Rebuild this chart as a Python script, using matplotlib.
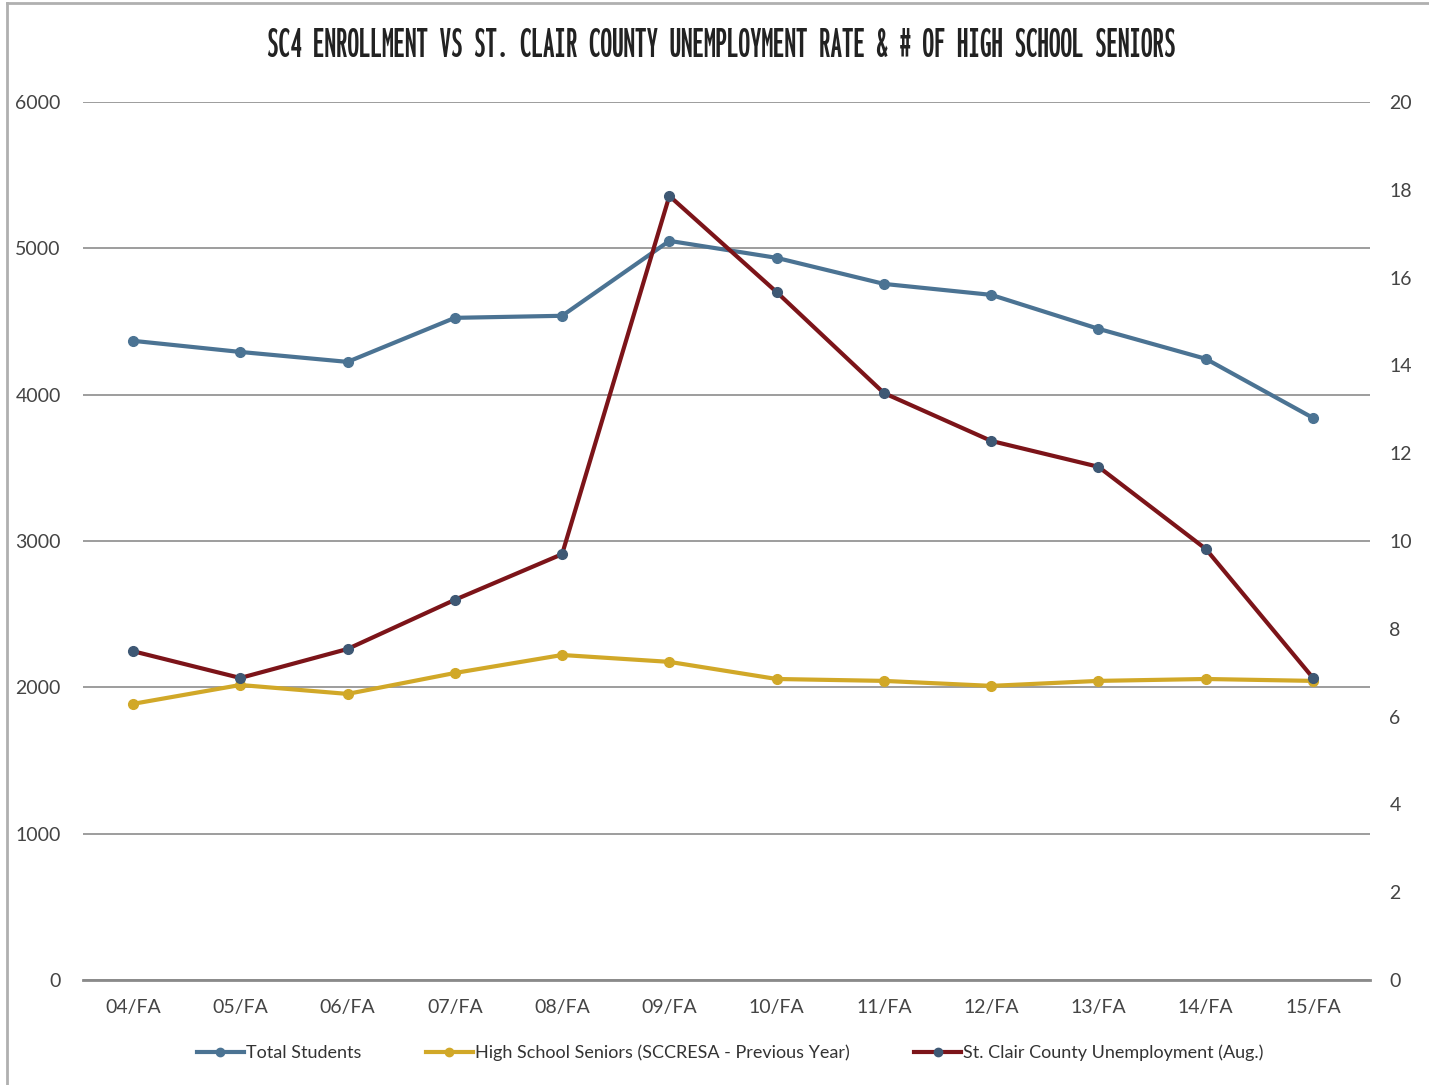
import matplotlib
matplotlib.use("Agg")
import matplotlib.pyplot as plt
from matplotlib.lines import Line2D
from matplotlib import font_manager
from matplotlib.font_manager import FontProperties

terms = ["04/FA", "05/FA", "06/FA", "07/FA", "08/FA", "09/FA",
         "10/FA", "11/FA", "12/FA", "13/FA", "14/FA", "15/FA"]
total_students = [4368, 4292, 4224, 4525, 4539, 5051, 4935, 4757, 4682, 4450, 4245, 3841]
hs_seniors = [1887, 2016, 1955, 2098, 2221, 2174, 2057, 2044, 2010, 2044, 2057, 2044]
unemployment = [7.49, 6.88, 7.54, 8.66, 9.70, 17.86, 15.67, 13.37, 12.28, 11.69, 9.82, 6.88]

left_ticks = [0, 1000, 2000, 3000, 4000, 5000, 6000]
right_ticks = [0, 2, 4, 6, 8, 10, 12, 14, 16, 18, 20]

title = "SC4 ENROLLMENT VS ST. CLAIR COUNTY UNEMPLOYMENT RATE & # OF HIGH SCHOOL SENIORS"
labels = ["Total Students", "High School Seniors (SCCRESA - Previous Year)",
          "St. Clair County Unemployment (Aug.)"]

c_total = "#4b7393"
c_hs = "#d1a828"
c_unemp = "#7c1419"
c_marker = "#3e5874"
tick_color = "#444444"
body_font = "Lato"

fig = plt.figure(figsize=(14.29, 10.85), dpi=100)
ax = fig.add_axes([83/1429, 1-980/1085, (1370-83)/1429, (980-102)/1085])
ax2 = ax.twinx()

x = list(range(len(terms)))
ax.plot(x, total_students, color=c_total, lw=3, marker="o", ms=7,
        mfc=c_total, mec=c_total, zorder=3)
ax.plot(x, hs_seniors, color=c_hs, lw=3, marker="o", ms=7,
        mfc=c_hs, mec=c_hs, zorder=3)
ax2.plot(x, unemployment, color=c_unemp, lw=3, marker="o", ms=7,
         mfc=c_marker, mec=c_marker, zorder=3)

ax.set_xlim(-0.466, 11.531)
ax.set_ylim(0, 6000)
ax2.set_ylim(0, 20)
ax.set_yticks(left_ticks)
ax2.set_yticks(right_ticks)
ax.set_xticks(x)
ax.set_xticklabels(terms)

for a in (ax, ax2):
    for s in a.spines.values():
        s.set_visible(False)
ax.spines["bottom"].set_visible(True)
ax.spines["bottom"].set_color("#8a8a8a")
ax.spines["bottom"].set_linewidth(2)

ax.yaxis.grid(True, color="#959595", lw=1.3)
ax.set_axisbelow(True)
ax.tick_params(axis="both", length=0, labelsize=14, colors=tick_color)
ax.tick_params(axis="y", pad=16)
ax.tick_params(axis="x", pad=14)
ax2.tick_params(axis="y", length=0, labelsize=14, colors=tick_color, pad=14)
for lab in ax.get_xticklabels() + ax.get_yticklabels() + ax2.get_yticklabels():
    lab.set_family(body_font)

# choose the narrowest available bold condensed (proportional) font for the title
renderer = fig.canvas.get_renderer()
def pick(require_bold):
    cands = [f.fname for f in font_manager.fontManager.ttflist
             if any(k in f.fname for k in ("Condensed", "Narrow", "Cond"))
             and not any(k in f.fname for k in ("Italic", "Oblique", "Mono"))
             and (not require_bold or "Bold" in f.fname)]
    best = None
    for fn in cands:
        try:
            fp = FontProperties(fname=fn, size=20)
            t = fig.text(0, 0, title, fontproperties=fp)
            w = t.get_window_extent(renderer).width
            t.remove()
            if best is None or w < best[1]:
                best = (fn, w)
        except Exception:
            pass
    return best

best = pick(True) or pick(False)
target_w = 918
if best is not None:
    size = min(36, 20 * target_w / best[1])
    title_fp = FontProperties(fname=best[0], size=size)
else:
    title_fp = FontProperties(family="DejaVu Sans", weight="bold", size=14)

fig.text(0.505, 1-45/1085, title, ha="center", va="center",
         color="#222222", fontproperties=title_fp)

handles = [Line2D([], [], color=c_total, lw=3, marker="o", ms=6, mfc=c_total, mec=c_total),
           Line2D([], [], color=c_hs, lw=3, marker="o", ms=6, mfc=c_hs, mec=c_hs),
           Line2D([], [], color=c_unemp, lw=3, marker="o", ms=6, mfc=c_marker, mec=c_marker)]
fig.legend(handles, labels, loc="center", bbox_to_anchor=(0.511, 1-1053/1085),
           ncol=3, frameon=False, prop={"family": body_font, "size": 13},
           handlelength=2.6, handletextpad=0.1, columnspacing=3.6,
           labelcolor="#333333")

fig.add_artist(Line2D([7/1429, 7/1429], [0, 1-3/1085], color="#b0b0b0", lw=2,
                      transform=fig.transFigure))
fig.add_artist(Line2D([7/1429, 1], [1-3/1085, 1-3/1085], color="#b0b0b0", lw=2,
                      transform=fig.transFigure))

fig.savefig("out.png", dpi=100, facecolor="white")
